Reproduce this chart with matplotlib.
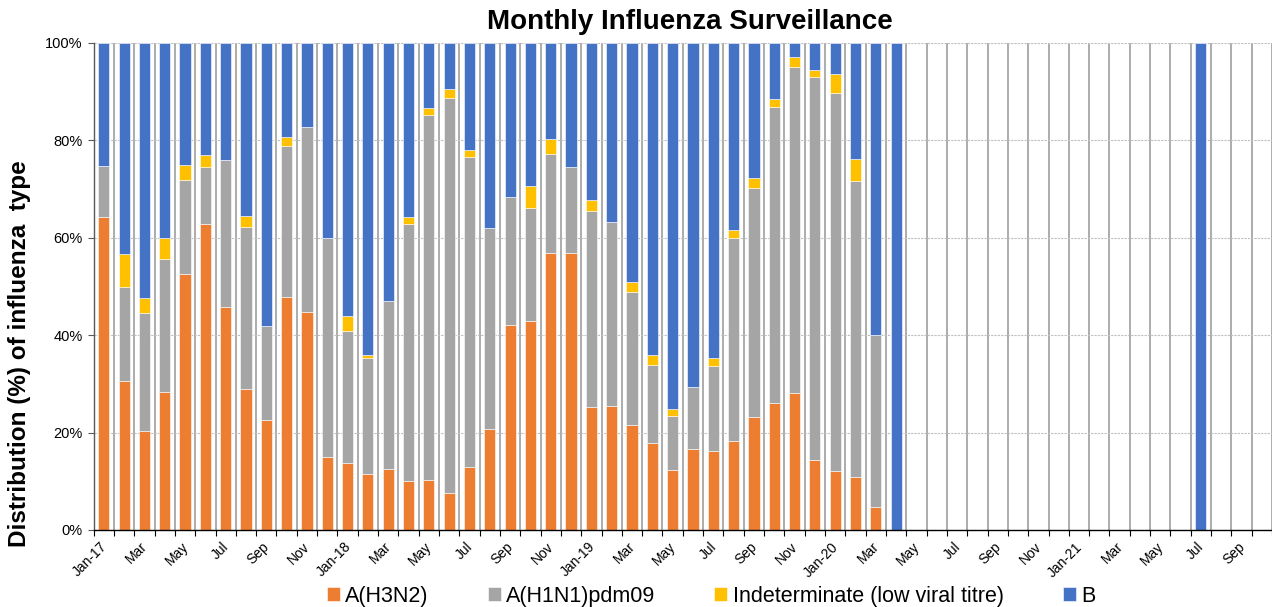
import matplotlib
matplotlib.use("Agg")
import matplotlib.pyplot as plt
import matplotlib.transforms as mtransforms
import numpy as np

plt.rcParams['font.family'] = ['Liberation Sans', 'DejaVu Sans']

# months Jan-17 .. Oct-21
month_names = ["Jan", "Feb", "Mar", "Apr", "May", "Jun",
               "Jul", "Aug", "Sep", "Oct", "Nov", "Dec"]
years = ["17", "18", "19", "20", "21"]
months = []
for y in years:
    for m in month_names:
        months.append(m + "-" + y)
months = months[:58]

# percentages (Jan-17 .. Apr-20), rest empty
h3n2 = [64.2, 30.6, 20.3, 28.4, 52.5, 62.9, 45.7, 28.9, 22.5, 47.9, 44.8, 14.9,
        13.8, 11.5, 12.6, 10.0, 10.3, 7.5, 12.9, 20.7, 42.1, 43.0, 56.9, 56.9,
        25.2, 25.4, 21.5, 17.9, 12.4, 16.6, 16.3, 18.2, 23.3, 26.0, 28.1, 14.4,
        12.2, 10.8, 4.8, 0.0]
h1n1 = [10.5, 19.3, 24.3, 27.3, 19.4, 11.7, 30.2, 33.3, 19.4, 31.0, 38.0, 45.1,
        27.0, 23.9, 34.5, 52.9, 74.9, 81.2, 63.7, 41.3, 26.3, 23.1, 20.4, 17.7,
        40.2, 37.8, 27.4, 16.0, 11.1, 12.7, 17.4, 41.8, 46.9, 60.9, 67.0, 78.6,
        77.5, 60.9, 35.2, 0.0]
indet = [0.0, 6.8, 3.0, 4.3, 3.0, 2.3, 0.0, 2.2, 0.0, 1.8, 0.0, 0.0,
         3.2, 0.6, 0.0, 1.3, 1.5, 1.8, 1.4, 0.0, 0.0, 4.6, 2.9, 0.0,
         2.3, 0.0, 2.1, 2.1, 1.4, 0.0, 1.7, 1.6, 2.1, 1.5, 2.0, 1.4,
         4.0, 4.4, 0.0, 0.0]
b_only = {39: 100.0, 54: 100.0}  # Apr-20 and Jul-21

n = len(months)
h3n2 = np.array(h3n2 + [0.0] * (n - len(h3n2)))
h1n1 = np.array(h1n1 + [0.0] * (n - len(h1n1)))
indet = np.array(indet + [0.0] * (n - len(indet)))
b = np.zeros(n)
for i in range(n):
    if i in b_only:
        b[i] = b_only[i]
    elif i < 39:
        b[i] = 100.0 - h3n2[i] - h1n1[i] - indet[i]

tick_labels = []
for i, m in enumerate(months):
    if i % 2:
        tick_labels.append("")
    elif m.startswith("Jan"):
        tick_labels.append(m)
    else:
        tick_labels.append(m[:3])

fig = plt.figure(figsize=(12.72, 6.07), dpi=100)
ax = fig.add_axes([0.0736, 0.1269, 0.9264, 0.8023])

x = np.arange(n)
w = 0.55
ax.bar(x, h3n2, w, color='#ED7D31', edgecolor='white', linewidth=0.4, label='A(H3N2)', zorder=3)
ax.bar(x, h1n1, w, bottom=h3n2, color='#A5A5A5', edgecolor='white', linewidth=0.4,
       label='A(H1N1)pdm09', zorder=3)
ax.bar(x, indet, w, bottom=h3n2 + h1n1, color='#FFC000', edgecolor='white', linewidth=0.4,
       label='Indeterminate (low viral titre)', zorder=3)
ax.bar(x, b, w, bottom=h3n2 + h1n1 + indet, color='#4472C4', edgecolor='white', linewidth=0.4,
       label='B', zorder=3)

ax.set_xlim(-0.5, 57.18)
ax.set_ylim(0, 100)

# vertical gridlines at category boundaries
ax.set_xticks(np.arange(-0.5, n, 1), minor=True)
ax.set_xticks(x)
ax.set_xticklabels(tick_labels, rotation=45, ha='right', rotation_mode='anchor', fontsize=10)
ax.tick_params(axis='x', which='major', length=0, pad=7)
ax.tick_params(axis='x', which='minor', length=4, color='black', width=0.8)
ax.grid(axis='x', which='minor', color='#A6A6A6', linewidth=1.3, zorder=1)
shift = mtransforms.ScaledTranslation(-4 / 100, 0, fig.dpi_scale_trans)
for lbl in ax.get_xticklabels():
    lbl.set_transform(lbl.get_transform() + shift)

ax.set_yticks(np.arange(0, 101, 20))
ax.set_yticklabels([f"{v}%" for v in range(0, 101, 20)], fontsize=10.5)
ax.tick_params(axis='y', length=4, color='#595959', width=0.8, pad=4)
ax.grid(axis='y', which='major', color='#BFBFBF', linewidth=0.8, linestyle=(0, (2, 1)), zorder=1)

for s in ['top', 'right']:
    ax.spines[s].set_visible(False)
ax.spines['left'].set_color('#595959')
ax.spines['left'].set_linewidth(1.0)
ax.spines['bottom'].set_color('black')
ax.spines['bottom'].set_linewidth(1.0)
ax.spines['bottom'].set_zorder(4)

fig.text(0.5425, 0.964, "Monthly Influenza Surveillance", ha='center', va='center',
         fontsize=20, fontweight='bold')
fig.text(0.015, 0.417, "Distribution (%) of influenza  type", rotation=90,
         ha='center', va='center', fontsize=17.5, fontweight='bold')

fig.legend(loc='center', bbox_to_anchor=(0.559, 0.018), ncol=4, frameon=False,
           fontsize=15.5, handlelength=0.6, handleheight=0.6, handletextpad=0.25,
           columnspacing=2.75, borderpad=0)

fig.savefig("out.png", dpi=100)
